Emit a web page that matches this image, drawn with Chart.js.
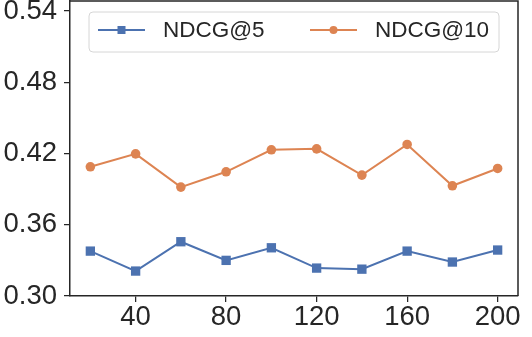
<!DOCTYPE html>
<html>
<head>
<meta charset="utf-8">
<script src="https://cdn.jsdelivr.net/npm/chart.js@4"></script>
<style>
  body { margin: 0; background: #fff; }
  canvas { display: block; }
</style>
</head>
<body>
<canvas id="canvas" width="532" height="337"></canvas>
<script>
const canvas = document.getElementById("canvas");

// data
const xValues = [20, 40, 60, 80, 100, 120, 140, 160, 180, 200];
const ndcg5 = [0.3378, 0.3210, 0.3457, 0.3300, 0.3406, 0.3235, 0.3226, 0.3378, 0.3286, 0.3387];
const ndcg10 = [0.4088, 0.4197, 0.3917, 0.4046, 0.4231, 0.4239, 0.4018, 0.4276, 0.3928, 0.4074];
const xTicks = [40, 80, 120, 160, 200];
const yTicks = [0.30, 0.36, 0.42, 0.48, 0.54];
const seriesLabels = ['NDCG@5', 'NDCG@10'];

const BLUE = '#4C72B0';
const ORANGE = '#DD8452';
const INK = '#262626';
const FONT = '"Liberation Sans", Arial, sans-serif';

function toPoints(values) {
  return values.map((v, i) => ({ x: xValues[i], y: v }));
}

// top/right frame lines + matplotlib style legend box
const framePlugin = {
  id: 'frame',
  afterDatasetsDraw(chart) {
    const { ctx, chartArea: a } = chart;
    ctx.save();
    ctx.strokeStyle = INK;
    ctx.lineWidth = 1.5;
    ctx.beginPath();
    ctx.moveTo(a.left, a.top);
    ctx.lineTo(a.right, a.top);
    ctx.lineTo(a.right, a.bottom);
    ctx.stroke();
    ctx.restore();
  },
  afterDraw(chart) {
    const ctx = chart.ctx;
    ctx.save();
    // box
    const bx = 89, by = 12, bw = 410, bh = 40, r = 4;
    ctx.beginPath();
    ctx.roundRect(bx, by, bw, bh, r);
    ctx.fillStyle = 'rgba(255,255,255,0.8)';
    ctx.fill();
    ctx.strokeStyle = '#d6d6d6';
    ctx.lineWidth = 1;
    ctx.stroke();

    const cy = 30;
    const entries = [
      { x0: 98, x1: 145, tx: 163, color: BLUE, style: 'rect', label: seriesLabels[0] },
      { x0: 310, x1: 357, tx: 375, color: ORANGE, style: 'circle', label: seriesLabels[1] }
    ];
    entries.forEach(e => {
      ctx.strokeStyle = e.color;
      ctx.lineWidth = 2;
      ctx.beginPath();
      ctx.moveTo(e.x0, cy);
      ctx.lineTo(e.x1, cy);
      ctx.stroke();
      ctx.fillStyle = e.color;
      const mx = (e.x0 + e.x1) / 2;
      if (e.style === 'rect') {
        ctx.fillRect(mx - 4, cy - 4, 8, 8);
      } else {
        ctx.beginPath();
        ctx.arc(mx, cy, 4, 0, Math.PI * 2);
        ctx.fill();
      }
      ctx.fillStyle = INK;
      ctx.font = `22.5px ${FONT}`;
      ctx.textBaseline = 'middle';
      ctx.textAlign = 'left';
      ctx.fillText(e.label, e.tx, cy + 1);
    });
    ctx.restore();
  }
};

function makeDataset(label, values, color, style, radius) {
  return {
    label: label,
    data: toPoints(values),
    borderColor: color,
    backgroundColor: color,
    borderWidth: 2,
    pointStyle: style,
    pointRadius: radius,
    pointHoverRadius: radius,
    pointBorderWidth: 0,
    tension: 0
  };
}

const chart = new Chart(canvas, {
  type: 'line',
  data: {
    datasets: [
      makeDataset(seriesLabels[0], ndcg5, BLUE, 'rect', 6.6),
      makeDataset(seriesLabels[1], ndcg10, ORANGE, 'circle', 4.8)
    ]
  },
  options: {
    responsive: false,
    animation: false,
    layout: { autoPadding: false, padding: { top: 1, right: 14, left: 0, bottom: 0 } },
    plugins: {
      legend: { display: false },
      tooltip: { enabled: false }
    },
    scales: {
      x: {
        type: 'linear',
        min: 11,
        max: 209,
        afterBuildTicks: scale => { scale.ticks = xTicks.map(v => ({ value: v })); },
        afterFit: scale => {
          scale.height = 41;
          scale.paddingLeft = 0;
          scale.paddingRight = 0;
        },
        grid: { drawOnChartArea: false, tickLength: 6, tickColor: INK, lineWidth: 1.25 },
        border: { color: INK, width: 1.5 },
        ticks: {
          color: INK,
          padding: -1,
          maxRotation: 0,
          font: { family: FONT, size: 27.5 },
          callback: v => String(v)
        }
      },
      y: {
        type: 'linear',
        min: 0.30,
        max: 0.5484,
        afterBuildTicks: scale => { scale.ticks = yTicks.map(v => ({ value: v })); },
        afterFit: scale => {
          scale.width = 70;
          scale.paddingTop = 0;
          scale.paddingBottom = 0;
        },
        grid: { drawOnChartArea: false, tickLength: 6, tickColor: INK, lineWidth: 1.25 },
        border: { color: INK, width: 1.5 },
        ticks: {
          color: INK,
          padding: 7,
          font: { family: FONT, size: 27.5 },
          callback: v => Number(v).toFixed(2)
        }
      }
    }
  },
  plugins: [framePlugin]
});
</script>
</body>
</html>
